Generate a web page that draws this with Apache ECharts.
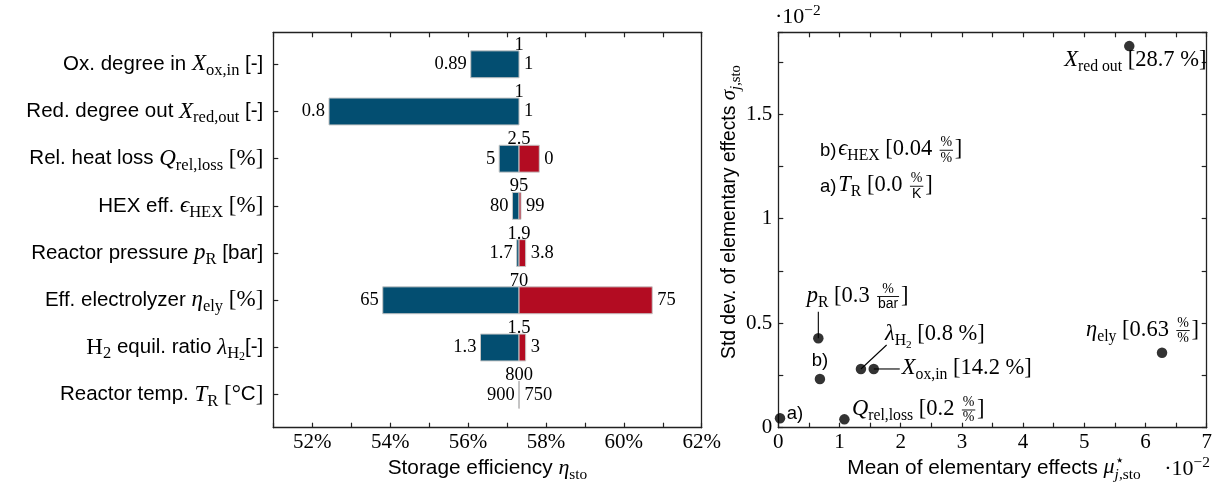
<!DOCTYPE html>
<html>
<head>
<meta charset="utf-8">
<script src="https://cdn.jsdelivr.net/npm/echarts@6/dist/echarts.min.js"></script>
<style>
  html, body { margin: 0; padding: 0; background: #fff; }
  #chart { width: 1213px; height: 486px; }
</style>
</head>
<body>
<div id="chart"></div>
<script>
// ---------- Left panel: storage efficiency for low / high parameter values ----------
const categories = [
  '{sf|Ox. degree in }{mi|X}{sub|ox,in}{sf| [-]}',
  '{sf|Red. degree out }{mi|X}{sub|red,out}{sf| [-]}',
  '{sf|Rel. heat loss }{mi|Q}{sub|rel,loss}{rm| [%]}',
  '{sf|HEX eff. }{mi|ϵ}{sub|HEX}{rm| [%]}',
  '{sf|Reactor pressure }{mi|p}{sub|R}{sf| [bar]}',
  '{sf|Eff. electrolyzer }{mi|η}{sub|ely}{rm| [%]}',
  '{rm|H}{sub|2}{sf| equil. ratio }{mi|λ}{sub|H}{ssub|2}{sf|[-]}',
  '{sf|Reactor temp. }{mi|T}{sub|R}{rm| [°}{sf|C}{rm|]}'
];
const nominalEff = 57.31;                       // storage efficiency at nominal point [%]
const lowEff  = [56.07, 52.43, 56.80, 57.14, 57.25, 53.81, 56.32, 57.30];
const highEff = [57.31, 57.31, 57.83, 57.36, 57.48, 60.73, 57.48, 57.32];
const nominalLabels = ['1', '1', '2.5', '95', '1.9', '70', '1.5', '800'];
const lowLabels     = ['0.89', '0.8', '5', '80', '1.7', '65', '1.3', '900'];
const highLabels    = ['1', '1', '0', '99', '3.8', '75', '3', '750'];

// ---------- Right panel: elementary effects (units of 1e-2) ----------
// order: X_ox,in, X_red,out, Q_rel,loss, eps_HEX, p_R, eta_ely, lambda_H2, T_R
const muStar    = [1.56, 5.735, 1.08, 0.68, 0.654, 6.27, 1.35, 0.028];
const sigmaStar = [0.281, 1.826, 0.040, 0.233, 0.428, 0.359, 0.281, 0.045];

const pct = [{ t: '%', f: 'rm' }];
const pointLabels = [
  [{ t: 'X', f: 'mi' }, { t: 'ox,in', f: 'rm', s: 'sub' }, { sp: 0.25 }, { t: '[14.2 %]', f: 'rm' }],
  [{ t: 'X', f: 'mi' }, { t: 'red out', f: 'rm', s: 'sub' }, { sp: 0.25 }, { t: '[28.7 %]', f: 'rm' }],
  [{ t: 'Q', f: 'mi' }, { t: 'rel,loss', f: 'rm', s: 'sub' }, { sp: 0.25 }, { t: '[0.2 ', f: 'rm' }, { frac: [pct, pct] }, { t: ']', f: 'rm' }],
  [{ t: 'b)', f: 'sf' }],
  [{ t: 'p', f: 'mi' }, { t: 'R', f: 'rm', s: 'sub' }, { sp: 0.25 }, { t: '[0.3 ', f: 'rm' }, { frac: [pct, [{ t: 'bar', f: 'sf' }]] }, { t: ']', f: 'rm' }],
  [{ t: 'η', f: 'mi' }, { t: 'ely', f: 'rm', s: 'sub' }, { sp: 0.25 }, { t: '[0.63 ', f: 'rm' }, { frac: [pct, pct] }, { t: ']', f: 'rm' }],
  [{ t: 'λ', f: 'mi' }, { t: 'H', f: 'rm', s: 'sub' }, { t: '2', f: 'rm', s: 'ssub' }, { sp: 0.25 }, { t: '[0.8 %]', f: 'rm' }],
  [{ t: 'a)', f: 'sf' }]
];
const noteLabels = [
  [{ t: 'b)', f: 'sf' }, { sp: 0.08 }, { t: 'ϵ', f: 'mi' }, { t: 'HEX', f: 'rm', s: 'sub' }, { sp: 0.25 }, { t: '[0.04 ', f: 'rm' }, { frac: [pct, pct] }, { t: ']', f: 'rm' }],
  [{ t: 'a)', f: 'sf' }, { sp: 0.08 }, { t: 'T', f: 'mi' }, { t: 'R', f: 'rm', s: 'sub' }, { sp: 0.25 }, { t: '[0.0 ', f: 'rm' }, { frac: [pct, [{ t: 'K', f: 'sf' }]] }, { t: ']', f: 'rm' }]
];

// label offsets (px) from each point, and optional leader line end offsets
const pointLabelPlacement = [
  { dx: 28, dy: 7, align: 'left', lead: [26, 0] },
  { dx: 6, dy: 22, align: 'center' },
  { dx: 7.5, dy: -2.6, align: 'left' },
  { dx: 0, dy: -12, align: 'center' },
  { dx: -11.6, dy: -35, align: 'left', lead: [0, -26.6] },
  { dx: 37, dy: -15.4, align: 'right' },
  { dx: 24, dy: -27.3, align: 'left', lead: [25.7, -24] },
  { dx: 6.7, dy: 2.4, align: 'left' }
];

// ---------- small math-text layout helper (text pieces + fraction bars) ----------
const FAM = { sf: 'Liberation Sans', rm: 'Liberation Serif', mi: 'Liberation Serif' };
const measureCtx = document.createElement('canvas').getContext('2d');
function measure(t, f, size) {
  measureCtx.font = (f === 'mi' ? 'italic ' : '') + size + 'px "' + FAM[f] + '"';
  return measureCtx.measureText(t).width;
}
function glyph(t, f, size, x, base) {
  return {
    type: 'text', x: x, y: base - 0.34 * size, silent: true,
    style: { text: t, fontFamily: FAM[f], fontSize: size, fontStyle: f === 'mi' ? 'italic' : 'normal',
             fill: '#000', align: 'left', verticalAlign: 'middle' }
  };
}
// lays out a token run; fs = math size, sfr = sans size / math size
function runTokens(tokens, fs, sfr, x0, b0, out) {
  let x = x0;
  for (const tk of tokens) {
    if (tk.sp != null) { x += tk.sp * fs; continue; }
    if (tk.frac) {
      const s = fs * 0.62;
      const wn = runTokens(tk.frac[0], s, 1, 0, 0, null);
      const wd = runTokens(tk.frac[1], s, 1, 0, 0, null);
      const w = Math.max(wn, wd) + 0.24 * fs;
      if (out) {
        runTokens(tk.frac[0], s, 1, x + (w - wn) / 2, b0 - 0.42 * fs, out);
        runTokens(tk.frac[1], s, 1, x + (w - wd) / 2, b0 + 0.25 * fs, out);
        out.push({ type: 'line', silent: true,
          shape: { x1: x + 0.08 * fs, y1: b0 - 0.3 * fs, x2: x + w - 0.08 * fs, y2: b0 - 0.3 * fs },
          style: { stroke: '#000', lineWidth: 0.9 } });
      }
      x += w; continue;
    }
    if (tk.stack) {
      const s = fs * 0.7;
      const xa = runTokens(tk.stack[0], s, 1, x, b0 - 0.42 * fs, out);
      const xb = runTokens(tk.stack[1], s, 1, x, b0 + 0.22 * fs, out);
      x = Math.max(xa, xb); continue;
    }
    const lvl = tk.s;
    let size = lvl === 'sub' || lvl === 'sup' ? fs * 0.7 : lvl === 'ssub' ? fs * 0.5 : fs;
    const dy = lvl === 'sub' ? 0.2 * fs : lvl === 'sup' ? -0.4 * fs : lvl === 'ssub' ? 0.3 * fs : 0;
    if (tk.f === 'sf') size *= sfr;
    if (out) out.push(glyph(tk.t, tk.f, size, x, b0 + dy));
    x += measure(tk.t, tk.f, size);
  }
  return x;
}
function mathGroup(tokens, fs, sfSize, align, x, y, extra) {
  const out = [];
  const w = runTokens(tokens, fs, sfSize / fs, 0, 0, out);
  const shift = align === 'right' ? -w : align === 'center' ? -w / 2 : 0;
  out.forEach(el => {
    if (el.type === 'line') { el.shape.x1 += shift; el.shape.x2 += shift; }
    else el.x += shift;
  });
  return Object.assign({ type: 'group', x: x, y: y, children: out }, extra || {});
}

// ---------- chart ----------
const AX = '#222';
const BLUE = '#034e71', RED = '#b30c22', EDGE = '#c6c6c6';
const serifLabel = { fontFamily: 'Liberation Serif', fontSize: 21, color: '#000' };
const ANN = 22.5, ANN_SF = 18.5;   // annotation sizes (math / sans)

function frameAxis(extra) {
  return Object.assign({
    type: 'value',
    axisLine: { show: true, onZero: false, lineStyle: { color: AX, width: 1.3 } },
    axisTick: { show: false },
    axisLabel: { show: false },
    splitLine: { show: false }
  }, extra);
}
const tickStyle = { show: true, inside: true, length: 5, lineStyle: { color: AX, width: 1.2 } };
const near = (v, step) => Math.abs(v / step - Math.round(v / step)) < 1e-6;

const richCat = {
  sf: { fontFamily: 'Liberation Sans', fontSize: 20.5, lineHeight: 30, verticalAlign: 'middle', color: '#000' },
  mi: { fontFamily: 'Liberation Serif', fontStyle: 'italic', fontSize: 23, lineHeight: 30, verticalAlign: 'middle', color: '#000' },
  rm: { fontFamily: 'Liberation Serif', fontSize: 23, lineHeight: 30, verticalAlign: 'middle', color: '#000' },
  sub: { fontFamily: 'Liberation Serif', fontSize: 16.5, lineHeight: 16, verticalAlign: 'bottom', color: '#000' },
  ssub: { fontFamily: 'Liberation Serif', fontSize: 12, lineHeight: 10, verticalAlign: 'bottom', color: '#000' }
};

const barData = categories.map((c, i) => [i, lowEff[i], highEff[i]]);
const pointData = muStar.map((m, i) => [m, sigmaStar[i], i]);

const chart = echarts.init(document.getElementById('chart'), null, { renderer: 'canvas', width: 1213, height: 486 });

chart.setOption({
  animation: false,
  backgroundColor: '#fff',
  grid: [
    { left: 273.3, top: 32.3, width: 428.4, height: 395.4, containLabel: false, outerBoundsMode: 'none' },
    { left: 273.3, top: 40.7, width: 428.4, height: 377.6, containLabel: false, outerBoundsMode: 'none' },
    { left: 778.3, top: 32.3, width: 428.4, height: 395.4, containLabel: false, outerBoundsMode: 'none' }
  ],
  xAxis: [
    frameAxis({ gridIndex: 0, position: 'bottom', min: 51, max: 62, interval: 1, axisTick: tickStyle,
      axisLabel: Object.assign({ show: true, margin: 4, formatter: v => (near(v, 2) ? v + '%' : '') }, serifLabel) }),
    frameAxis({ gridIndex: 0, position: 'top', min: 51, max: 62, interval: 1, axisTick: tickStyle }),
    { type: 'value', gridIndex: 1, min: 51, max: 62, show: false },
    frameAxis({ gridIndex: 2, position: 'bottom', min: 0, max: 7, interval: 0.5, axisTick: tickStyle,
      axisLabel: Object.assign({ show: true, margin: 4, formatter: v => (near(v, 1) ? String(Math.round(v)) : '') }, serifLabel) }),
    frameAxis({ gridIndex: 2, position: 'top', min: 0, max: 7, interval: 0.5, axisTick: tickStyle })
  ],
  yAxis: [
    frameAxis({ gridIndex: 0, position: 'left', min: 0, max: 1 }),
    frameAxis({ gridIndex: 0, position: 'right', min: 0, max: 1 }),
    {
      type: 'category', gridIndex: 1, data: categories, inverse: true,
      axisLine: { show: false }, splitLine: { show: false },
      axisTick: Object.assign({ alignWithLabel: true }, tickStyle),
      axisLabel: { interval: 0, margin: 10, rich: richCat }
    },
    frameAxis({ gridIndex: 2, position: 'left', min: 0, max: 1.892, interval: 0.25, axisTick: tickStyle,
      axisLabel: Object.assign({ show: true, margin: 6, formatter: v => (near(v, 0.5) ? String(v) : '') }, serifLabel) }),
    frameAxis({ gridIndex: 2, position: 'right', min: 0, max: 1.892, interval: 0.25, axisTick: tickStyle })
  ],
  series: [
    {
      // tornado bars: blue = low-efficiency side, red = high-efficiency side
      type: 'custom', xAxisIndex: 2, yAxisIndex: 2, data: barData,
      encode: { x: [1, 2], y: 0 },
      renderItem: function (params, api) {
        const i = api.value(0);
        const lo = api.value(1), hi = api.value(2);
        const pBase = api.coord([nominalEff, i]);
        const pLo = api.coord([lo, i]);
        const pHi = api.coord([hi, i]);
        const h = api.size([0, 1])[1] * 0.57;
        const yc = pBase[1];
        const children = [];
        if (pBase[0] - pLo[0] > 0) {
          children.push({ type: 'rect', shape: { x: pLo[0], y: yc - h / 2, width: pBase[0] - pLo[0], height: h },
            style: { fill: BLUE, stroke: EDGE, lineWidth: 1 } });
        }
        if (pHi[0] - pBase[0] > 0) {
          children.push({ type: 'rect', shape: { x: pBase[0], y: yc - h / 2, width: pHi[0] - pBase[0], height: h },
            style: { fill: RED, stroke: EDGE, lineWidth: 1 } });
        }
        const txt = (t, x, y, align) => ({ type: 'text', x: x, y: y,
          style: { text: t, fontFamily: 'Liberation Serif', fontSize: 18.5, fill: '#000', align: align, verticalAlign: 'middle' } });
        children.push(txt(nominalLabels[i], pBase[0], yc - h / 2 - 6, 'center'));
        children.push(txt(lowLabels[i], Math.min(pLo[0], pBase[0]) - 4, yc, 'right'));
        children.push(txt(highLabels[i], Math.max(pHi[0], pBase[0]) + 5, yc, 'left'));
        return { type: 'group', children: children };
      }
    },
    {
      // leader lines from points to their labels
      type: 'custom', xAxisIndex: 3, yAxisIndex: 3, data: pointData, z: 2,
      encode: { x: 0, y: 1 },
      renderItem: function (params, api) {
        const k = api.value(2);
        const lead = pointLabelPlacement[k].lead;
        if (!lead) return { type: 'group', children: [] };
        const p = api.coord([api.value(0), api.value(1)]);
        return { type: 'line', shape: { x1: p[0], y1: p[1], x2: p[0] + lead[0], y2: p[1] + lead[1] },
          style: { stroke: '#000', lineWidth: 1.1 } };
      }
    },
    {
      type: 'scatter', xAxisIndex: 3, yAxisIndex: 3, z: 3,
      data: pointData, symbol: 'circle', symbolSize: 10.5,
      itemStyle: { color: '#000' }, emphasis: { disabled: true }
    },
    {
      // point annotations
      type: 'custom', xAxisIndex: 3, yAxisIndex: 3, data: pointData, z: 4,
      encode: { x: 0, y: 1 },
      renderItem: function (params, api) {
        const k = api.value(2);
        const pl = pointLabelPlacement[k];
        const p = api.coord([api.value(0), api.value(1)]);
        return mathGroup(pointLabels[k], ANN, ANN_SF, pl.align, p[0] + pl.dx, p[1] + pl.dy);
      }
    }
  ],
  graphic: [
    mathGroup(noteLabels[0], ANN, ANN_SF, 'left', 820, 157),
    mathGroup(noteLabels[1], ANN, ANN_SF, 'left', 820, 193),
    mathGroup([{ t: 'Storage efficiency ', f: 'sf' }, { t: 'η', f: 'mi' }, { t: 'sto', f: 'rm', s: 'sub' }],
      22, 20.8, 'center', 487.5, 475.5),
    mathGroup([{ t: 'Mean of elementary effects ', f: 'sf' }, { t: 'μ', f: 'mi' },
      { stack: [[{ t: '⋆', f: 'rm' }], [{ t: 'j', f: 'mi' }, { t: ',sto', f: 'rm' }]] }],
      22, 20.8, 'center', 994, 475),
    mathGroup([{ t: '·10', f: 'rm' }, { t: '−2', f: 'rm', s: 'sup' }], 22, 20, 'right', 1210, 476.5),
    mathGroup([{ t: '·10', f: 'rm' }, { t: '−2', f: 'rm', s: 'sup' }], 22, 20, 'left', 775, 25),
    mathGroup([{ t: 'Std dev. of elementary effects ', f: 'sf' }, { t: 'σ', f: 'mi' },
      { t: 'j', f: 'mi', s: 'sub' }, { t: ',sto', f: 'rm', s: 'sub' }],
      21, 19.3, 'center', 736.5, 212, { rotation: Math.PI / 2 })
  ]
});
</script>
</body>
</html>
